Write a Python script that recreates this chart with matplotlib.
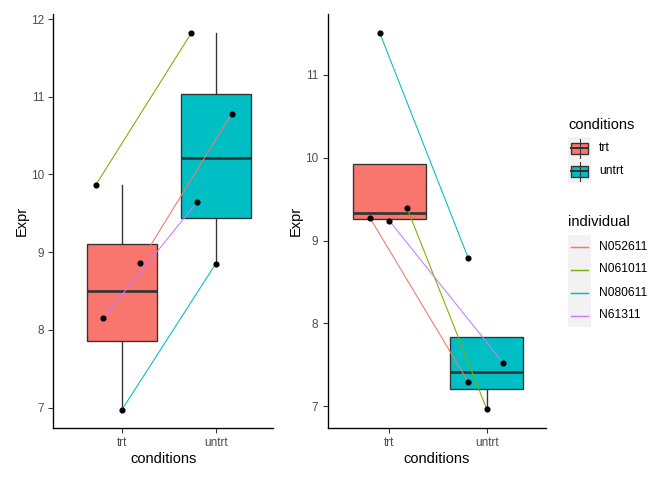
import matplotlib

matplotlib.use("Agg")

import matplotlib.pyplot as plt
from matplotlib.patches import Rectangle

plt.rcParams["font.family"] = ["Liberation Sans", "DejaVu Sans"]

# data
conditions = ["trt", "untrt"]
cond_colors = ["#F8766D", "#00BFC4"]
individuals = ["N052611", "N061011", "N080611", "N61311"]
ind_colors = ["#F8766D", "#7CAE00", "#00BFC4", "#C77CFF"]

left_trt = [8.86, 9.86, 6.97, 8.15]
left_untrt = [10.78, 11.82, 8.85, 9.64]
left_jit_trt = [0.19, -0.28, 0.0, -0.20]
left_jit_untrt = [0.17, -0.26, 0.0, -0.20]

right_trt = [9.274, 9.395, 11.507, 9.238]
right_untrt = [7.295, 6.969, 8.79, 7.524]
right_jit_trt = [-0.20, 0.18, -0.10, 0.0]
right_jit_untrt = [-0.19, 0.0, -0.19, 0.17]

W, H = 672, 480
EDGE = "#333333"
TICK = "#4D4D4D"


def draw_panel(ax, trt, untrt, jit_trt, jit_untrt, xlim, ylim, yticks):
    bp = ax.boxplot(
        [trt, untrt],
        positions=[1, 2],
        widths=0.75,
        patch_artist=True,
        showfliers=False,
        whis=1.5,
        boxprops=dict(edgecolor=EDGE, linewidth=1.0),
        whiskerprops=dict(color=EDGE, linewidth=1.0),
        capprops=dict(visible=False),
        medianprops=dict(color=EDGE, linewidth=2.0),
        zorder=1,
    )
    for patch, col in zip(bp["boxes"], cond_colors):
        patch.set_facecolor(col)
    for i, col in enumerate(ind_colors):
        xs = [1 + jit_trt[i], 2 + jit_untrt[i]]
        ys = [trt[i], untrt[i]]
        ax.plot(xs, ys, color=col, linewidth=0.8, zorder=2)
        ax.plot(xs, ys, "o", color="black", markersize=3.6, zorder=3, linestyle="none")
    ax.set_xlim(*xlim)
    ax.set_ylim(*ylim)
    ax.set_xticks([1, 2])
    ax.set_xticklabels(conditions)
    ax.set_yticks(yticks)
    ax.set_yticklabels([str(t) for t in yticks])
    ax.set_xlabel("conditions", fontsize=11, labelpad=2)
    ax.set_ylabel("Expr", fontsize=11, labelpad=1.8)
    for side in ["top", "right"]:
        ax.spines[side].set_visible(False)
    for side in ["left", "bottom"]:
        ax.spines[side].set_color("black")
        ax.spines[side].set_linewidth(1.0)
    ax.tick_params(axis="both", colors=EDGE, labelcolor=TICK, labelsize=8.8, length=3.5, width=0.8)


fig = plt.figure(figsize=(W / 96, H / 96), dpi=96)

ax1 = fig.add_axes([53.3 / W, 1 - 427.7 / H, 219.7 / W, 413.7 / H])
draw_panel(ax1, left_trt, left_untrt, left_jit_trt, left_jit_untrt,
           (0.27, 2.61), (6.74, 12.065), [7, 8, 9, 10, 11, 12])

ax2 = fig.add_axes([327.7 / W, 1 - 427.7 / H, 218.3 / W, 413.7 / H])
draw_panel(ax2, right_trt, right_untrt, right_jit_trt, right_jit_untrt,
           (0.365, 2.61), (6.742, 11.735), [7, 8, 9, 10, 11])

# legends, drawn in pixel space
lg = fig.add_axes([0, 0, 1, 1])
lg.set_xlim(0, W)
lg.set_ylim(H, 0)
lg.axis("off")

key_x, key_w, key_h = 568.3, 22.4, 23.0
lab_x = 599.0

lg.text(key_x, 125, "conditions", fontsize=11, va="center", ha="left")
for i, (name, col) in enumerate(zip(conditions, cond_colors)):
    y0 = 136.7 + i * key_h
    cy = y0 + key_h / 2
    lg.add_patch(Rectangle((key_x, y0), key_w, key_h, facecolor="#F2F2F2", edgecolor="none"))
    cx = key_x + key_w / 2
    lg.plot([cx, cx], [y0 + 2, y0 + key_h - 2], color=EDGE, linewidth=0.8)
    lg.add_patch(Rectangle((key_x + 2.8, cy - 5.5), key_w - 5.6, 11,
                           facecolor=col, edgecolor=EDGE, linewidth=1.0))
    lg.plot([key_x + 2.8, key_x + key_w - 2.8], [cy, cy], color=EDGE, linewidth=1.5)
    lg.text(lab_x, cy, name, fontsize=9.0, va="center", ha="left")

lg.text(key_x, 221.7, "individual", fontsize=11, va="center", ha="left")
for i, (name, col) in enumerate(zip(individuals, ind_colors)):
    y0 = 235.0 + i * key_h
    cy = y0 + key_h / 2
    lg.add_patch(Rectangle((key_x, y0), key_w, key_h, facecolor="#F2F2F2", edgecolor="none"))
    lg.plot([key_x + 2.2, key_x + key_w - 2.2], [cy, cy], color=col, linewidth=1.1)
    lg.text(lab_x, cy, name, fontsize=9.0, va="center", ha="left")

fig.savefig("out.png", dpi=96)
